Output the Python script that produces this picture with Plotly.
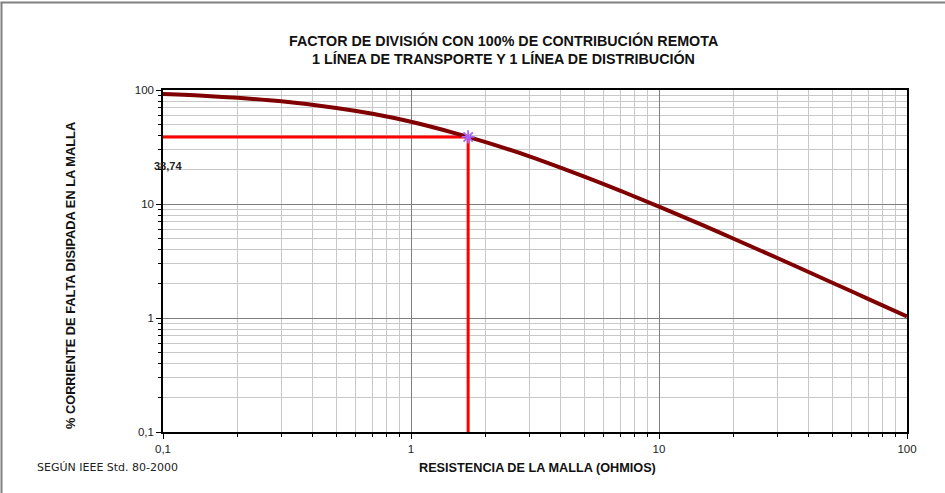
import plotly.graph_objects as go

# Grid resistance (ohm) and split factor (% of fault current through the grid)
resistencia = [0.1, 0.15, 0.2, 0.3, 0.5, 0.7, 1.0, 1.5, 1.7, 2.0, 3.0, 5.0, 7.0,
               10.0, 15.0, 20.0, 30.0, 50.0, 70.0, 100.0]
porcentaje = [92.2, 88.7, 85.4, 79.5, 69.6, 61.8, 52.6, 41.9, 38.74, 34.9, 26.2,
              17.4, 13.05, 9.5, 6.52, 4.96, 3.36, 2.04, 1.466, 1.03]

# Selected operating point
rg_sel = 1.7
sf_sel = 38.74
etiqueta_sel = "38,74"

# Axis ticks
x_ticks = [0.1, 1, 10, 100]
x_ticktext = ["0,1", "1", "10", "100"]
y_ticks = [0.1, 1, 10, 100]
y_ticktext = ["0,1", "1", "10", "100"]
x_min, y_min = 0.1, 0.1
minor_vals = [m * d for d in (0.1, 1, 10) for m in range(2, 10)]

TXT = "Liberation Sans, Arial, sans-serif"

fig = go.Figure()

# Reading lines to the selected point
fig.add_trace(go.Scatter(x=[x_min, rg_sel], y=[sf_sel, sf_sel], mode="lines",
                         line=dict(color="#ff0000", width=3), showlegend=False))
fig.add_trace(go.Scatter(x=[rg_sel, rg_sel], y=[y_min, sf_sel], mode="lines",
                         line=dict(color="#ff0000", width=3), showlegend=False))

# Split-factor curve
fig.add_trace(go.Scatter(x=resistencia, y=porcentaje, mode="lines",
                         line=dict(color="#800000", width=4, shape="spline"),
                         showlegend=False))

# Marker at the selected point
fig.add_trace(go.Scatter(x=[rg_sel], y=[sf_sel], mode="markers",
                         marker=dict(symbol="asterisk-open", size=11,
                                     line=dict(color="#0000ff", width=1.8)),
                         showlegend=False))

axis_common = dict(
    type="log",
    ticks="outside", ticklen=5, tickcolor="black", tickwidth=1,
    showline=True, linecolor="black", linewidth=1.5, mirror=True,
    showgrid=True, gridcolor="#7f7f7f", gridwidth=1,
    tickfont=dict(family=TXT, size=11.5, color="#222"),
    zeroline=False,
    minor=dict(tickmode="array", tickvals=minor_vals,
               ticks="outside", ticklen=3, tickcolor="black",
               showgrid=True, gridcolor="#c8c8c8", gridwidth=1.3),
)

fig.update_xaxes(**axis_common, range=[-1, 2], tickmode="array",
                 tickvals=x_ticks, ticktext=x_ticktext)
fig.update_yaxes(**axis_common, range=[-1, 2], tickmode="array",
                 tickvals=y_ticks, ticktext=y_ticktext)

L, R, T, B = 163, 38, 90, 61
W, H = 945, 493
pw, ph = W - L - R, H - T - B


def px(x):
    return (x - L) / pw


def py(y):
    return (H - B - y) / ph


annotations = [
    dict(text="<b>FACTOR DE DIVISIÓN CON 100% DE CONTRIBUCIÓN REMOTA</b>",
         x=px(503), y=py(40), xanchor="center", yanchor="middle",
         font=dict(family=TXT, size=14.3, color="#111")),
    dict(text="<b>1 LÍNEA DE TRANSPORTE Y 1 LÍNEA DE DISTRIBUCIÓN</b>",
         x=px(503), y=py(58), xanchor="center", yanchor="middle",
         font=dict(family=TXT, size=14.3, color="#111")),
    dict(text="<b>RESISTENCIA DE LA MALLA (OHMIOS)</b>",
         x=px(537), y=py(468), xanchor="center", yanchor="middle",
         font=dict(family=TXT, size=12.7, color="#111")),
    dict(text="<b>% CORRIENTE DE FALTA DISIPADA EN LA MALLA</b>", textangle=-90,
         x=px(70), y=py(276), xanchor="center", yanchor="middle",
         font=dict(family=TXT, size=12.8, color="#111")),
    dict(text="<b>" + etiqueta_sel + "</b>", x=px(152), y=py(166),
         xanchor="left", yanchor="middle", font=dict(family=TXT, size=11, color="#222")),
    dict(text="SEGÚN IEEE Std. 80-2000", x=px(35), y=py(468),
         xanchor="left", yanchor="middle",
         font=dict(family="DejaVu Sans, Verdana, sans-serif", size=11, color="#222")),
]
for a in annotations:
    a.update(xref="paper", yref="paper", showarrow=False)

fig.update_layout(
    width=W, height=H,
    margin=dict(l=L, r=R, t=T, b=B),
    paper_bgcolor="white", plot_bgcolor="white",
    annotations=annotations,
    shapes=[
        dict(type="line", xref="paper", yref="paper",
             x0=px(1.5), x1=px(1.5), y0=py(H + 10), y1=py(2.5),
             line=dict(color="#808080", width=2)),
        dict(type="line", xref="paper", yref="paper",
             x0=px(0.5), x1=px(W + 10), y0=py(2.5), y1=py(2.5),
             line=dict(color="#808080", width=2)),
    ],
)

fig.write_html("out.html")
